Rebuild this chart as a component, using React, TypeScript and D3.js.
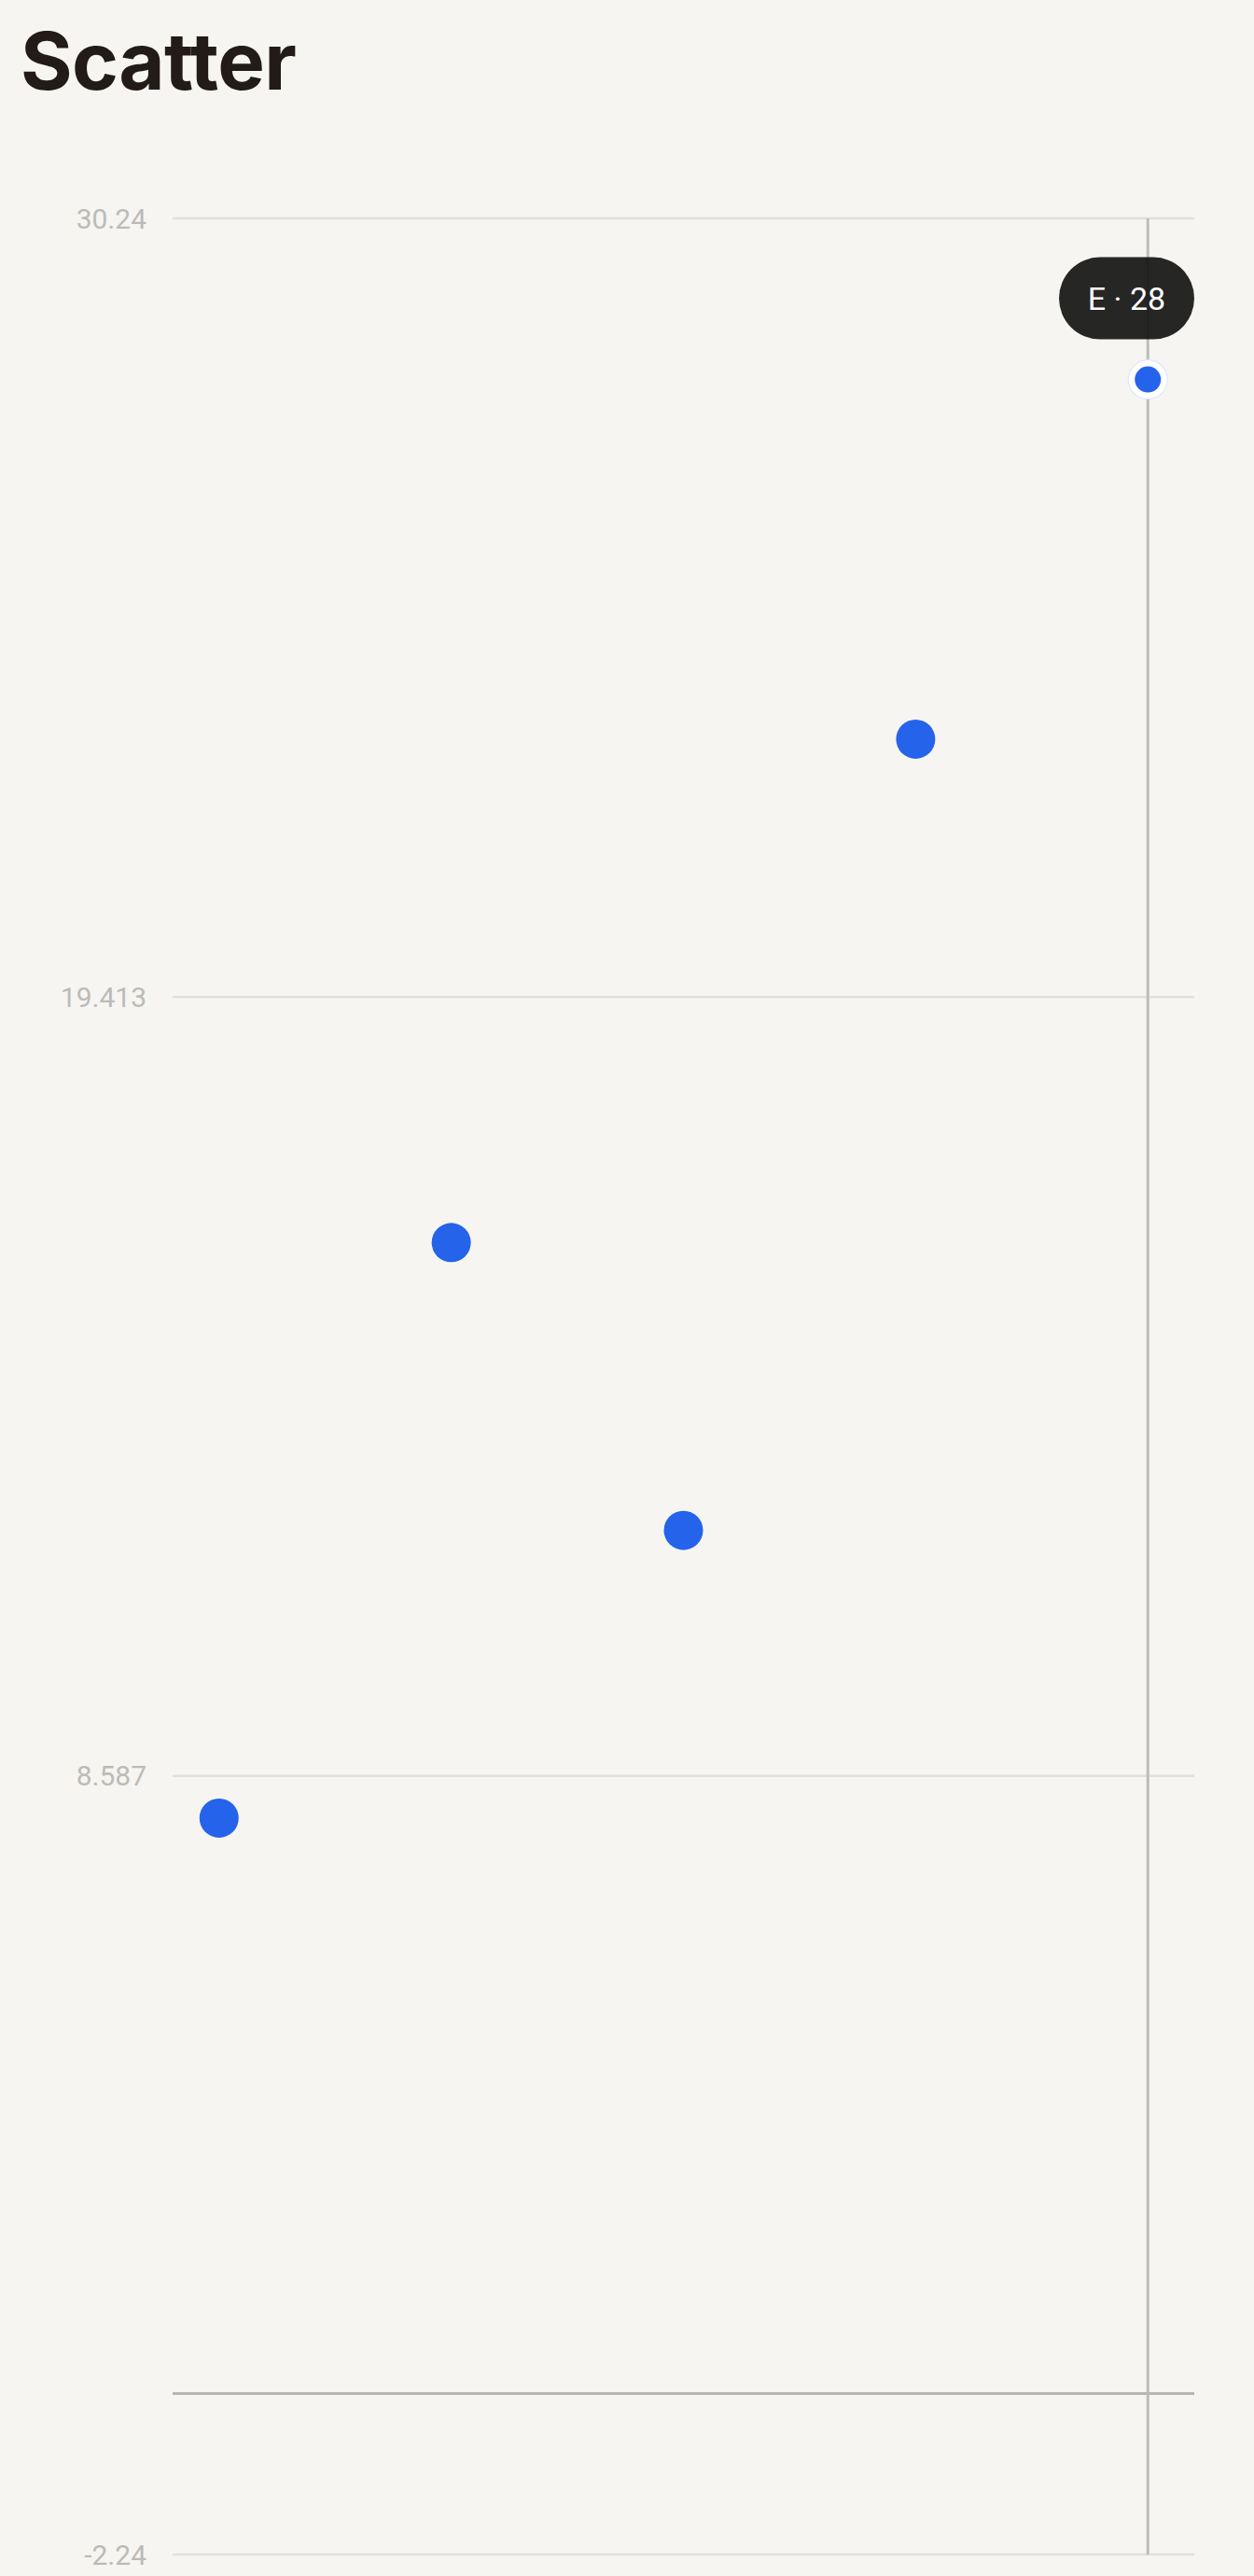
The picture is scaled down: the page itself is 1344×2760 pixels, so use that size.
import React from "react";
import * as d3 from "d3";

const categories = ["A", "B", "C", "D", "E"];
const values = [8, 16, 12, 23, 28];
const tickValues = [30.24, 19.413, 8.587, -2.24];
const activeIndex = 4;
const title = "Scatter";

const W = 1344;
const H = 2760;
const M = { left: 185, right: 64, top: 234, bottom: 23 };

export default function App() {
  const x = d3
    .scalePoint<string>()
    .domain(categories)
    .range([M.left, W - M.right])
    .padding(0.2);
  const y = d3
    .scaleLinear()
    .domain([-2.24, 30.24])
    .range([H - M.bottom, M.top]);

  const ax = x(categories[activeIndex]) as number;
  const ay = y(values[activeIndex]);
  const label = `${categories[activeIndex]} · ${values[activeIndex]}`;
  const pillW = 145;
  const pillH = 88;
  const pillX = W - M.right - pillW;
  const pillY = ay - 43 - pillH;

  return (
    <svg
      width={W}
      height={H}
      style={{ position: "absolute", left: 0, top: 0, display: "block" }}
      fontFamily="Roboto, 'Noto Sans', sans-serif"
    >
      <rect x={0} y={0} width={W} height={H} fill="#f6f5f1" />
      <text
        x={22}
        y={96}
        fontSize={85}
        fontWeight={700}
        fill="#231b18"
        fontFamily="Inter, Roboto, sans-serif"
        letterSpacing={-0.6}
        style={{ fontFeatureSettings: '"liga" 0, "calt" 0', fontVariantLigatures: "none" }}
      >
        {title}
      </text>
      {tickValues.map((t) => (
        <g key={t}>
          <line
            x1={M.left}
            x2={W - M.right}
            y1={y(t)}
            y2={y(t)}
            stroke="#e2e0dc"
            strokeWidth={2.5}
          />
          <text
            x={157}
            y={y(t)}
            dy="0.36em"
            textAnchor="end"
            fontSize={30}
            fill="#bcbbb8"
          >
            {String(t)}
          </text>
        </g>
      ))}
      <line
        x1={M.left}
        x2={W - M.right}
        y1={y(0)}
        y2={y(0)}
        stroke="#b7b6b2"
        strokeWidth={3}
      />
      <line
        x1={ax}
        x2={ax}
        y1={y(30.24)}
        y2={y(-2.24)}
        stroke="#bdbcb8"
        strokeWidth={3}
      />
      {values.map((v, i) =>
        i === activeIndex ? null : (
          <circle key={i} cx={x(categories[i])} cy={y(v)} r={21} fill="#2563eb" />
        )
      )}
      <circle cx={ax} cy={ay} r={21.5} fill="#dbe5fb" />
      <circle cx={ax} cy={ay} r={20.5} fill="#ffffff" />
      <circle cx={ax} cy={ay} r={14} fill="#2563eb" />
      <rect
        x={pillX}
        y={pillY}
        width={pillW}
        height={pillH}
        rx={pillH / 2}
        fill="#161616"
        fillOpacity={0.93}
      />
      <text
        x={pillX + pillW / 2}
        y={pillY + pillH / 2}
        dy="0.36em"
        textAnchor="middle"
        fontSize={34}
        fill="#ffffff"
      >
        {label}
      </text>
    </svg>
  );
}
